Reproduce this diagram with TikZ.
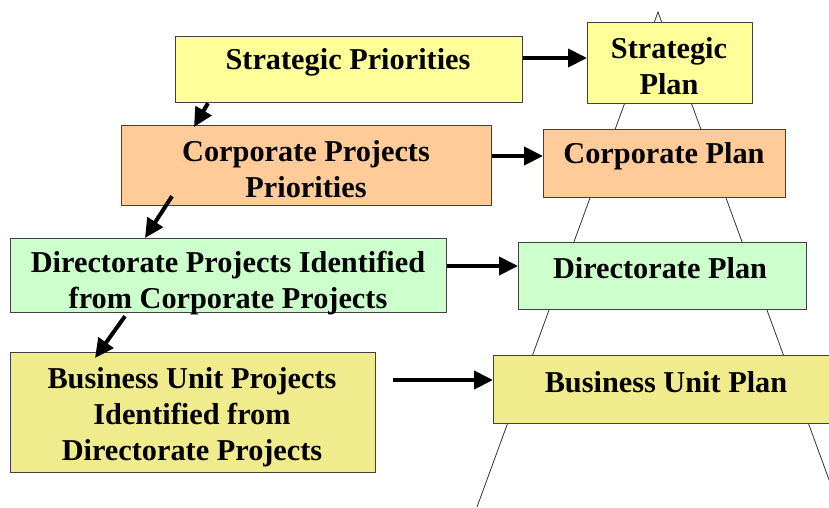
\documentclass[tikz,border=0pt]{standalone}
\usepackage{fontspec}
\setmainfont{Liberation Serif}
\usetikzlibrary{arrows.meta,calc}
\definecolor{cyel}{HTML}{FFFF99}
\definecolor{corg}{HTML}{FFCC99}
\definecolor{cgrn}{HTML}{CCFFCC}
\definecolor{ckha}{HTML}{F0EB8C}
\definecolor{boxline}{HTML}{404040}
\begin{document}
\begin{tikzpicture}[x=1pt,y=-1pt,
  box/.style={draw=boxline,line width=1.2pt,inner sep=0pt,anchor=north west},
  lbl/.style={font=\bfseries\fontsize{30.3}{36}\selectfont,align=center,inner sep=0pt},
  arr/.style={line width=4pt,-{Triangle[length=19pt,width=18pt]}},
  tri/.style={line width=0.8pt,draw=black!80}]
\useasboundingbox (0,0) rectangle (829,507);
\clip (0,0) rectangle (829,507);
% pyramid outline
\coordinate (apex) at (658,12);
\coordinate (baseL) at (477,507);
\coordinate (baseR) at (839,507);
\draw[tri] (baseL) -- (apex) -- (baseR);
% boxes
\node[box,fill=cyel,minimum width=347pt,minimum height=66pt] (sp) at (175,36) {};
\node[box,fill=cyel,minimum width=165pt,minimum height=81pt] (spl) at (587,22) {};
\node[box,fill=corg,minimum width=370pt,minimum height=80pt] (cpp) at (121,125) {};
\node[box,fill=corg,minimum width=242pt,minimum height=68pt] (cpl) at (543,129) {};
\node[box,fill=cgrn,minimum width=436pt,minimum height=74pt] (dp) at (10,238) {};
\node[box,fill=cgrn,minimum width=288pt,minimum height=67pt] (dpl) at (518,242) {};
\node[box,fill=ckha,minimum width=365pt,minimum height=120pt] (bup) at (10,352) {};
\node[box,fill=ckha,minimum width=345pt,minimum height=68pt] (bupl) at (493,355) {};
% texts
\node[lbl] (spT) at (348,62) {Strategic Priorities};
\node[lbl] (splT) at (669,66) {Strategic\\Plan};
\node[lbl] (cppT) at (306,169) {Corporate Projects\\Priorities};
\node[lbl] (cplT) at (664,156) {Corporate Plan};
\node[lbl] (dpT) at (228,283) {Directorate Projects Identified\\from Corporate Projects};
\node[lbl] (dplT) at (660,268) {Directorate Plan};
\node[lbl] (bupT) at (192,417) {Business Unit Projects\\Identified from\\Directorate Projects};
\node[lbl] (buplT) at (666,382) {Business Unit Plan};
% horizontal arrows
\draw[arr] (sp.east |- 0,58) -- (spl.west |- 0,58);
\draw[arr] (cpp.east |- 0,156) -- (cpl.west |- 0,156);
\draw[arr] (dp.east |- 0,266) -- (dpl.west |- 0,266);
\draw[arr] ($(bup.east |- 0,380)+(17,0)$) -- (bupl.west |- 0,380);
% diagonal arrows
\draw[arr] ($(sp.south west)+(33,0)$) -- ($(cpp.north west)+(73,2)$);
\draw[arr] ($(cpp.south west)+(51,-10)$) -- ($(dp.north west)+(135,0)$);
\draw[arr] ($(dp.south west)+(115,3)$) -- ($(bup.north west)+(85,6)$);
\end{tikzpicture}
\end{document}
